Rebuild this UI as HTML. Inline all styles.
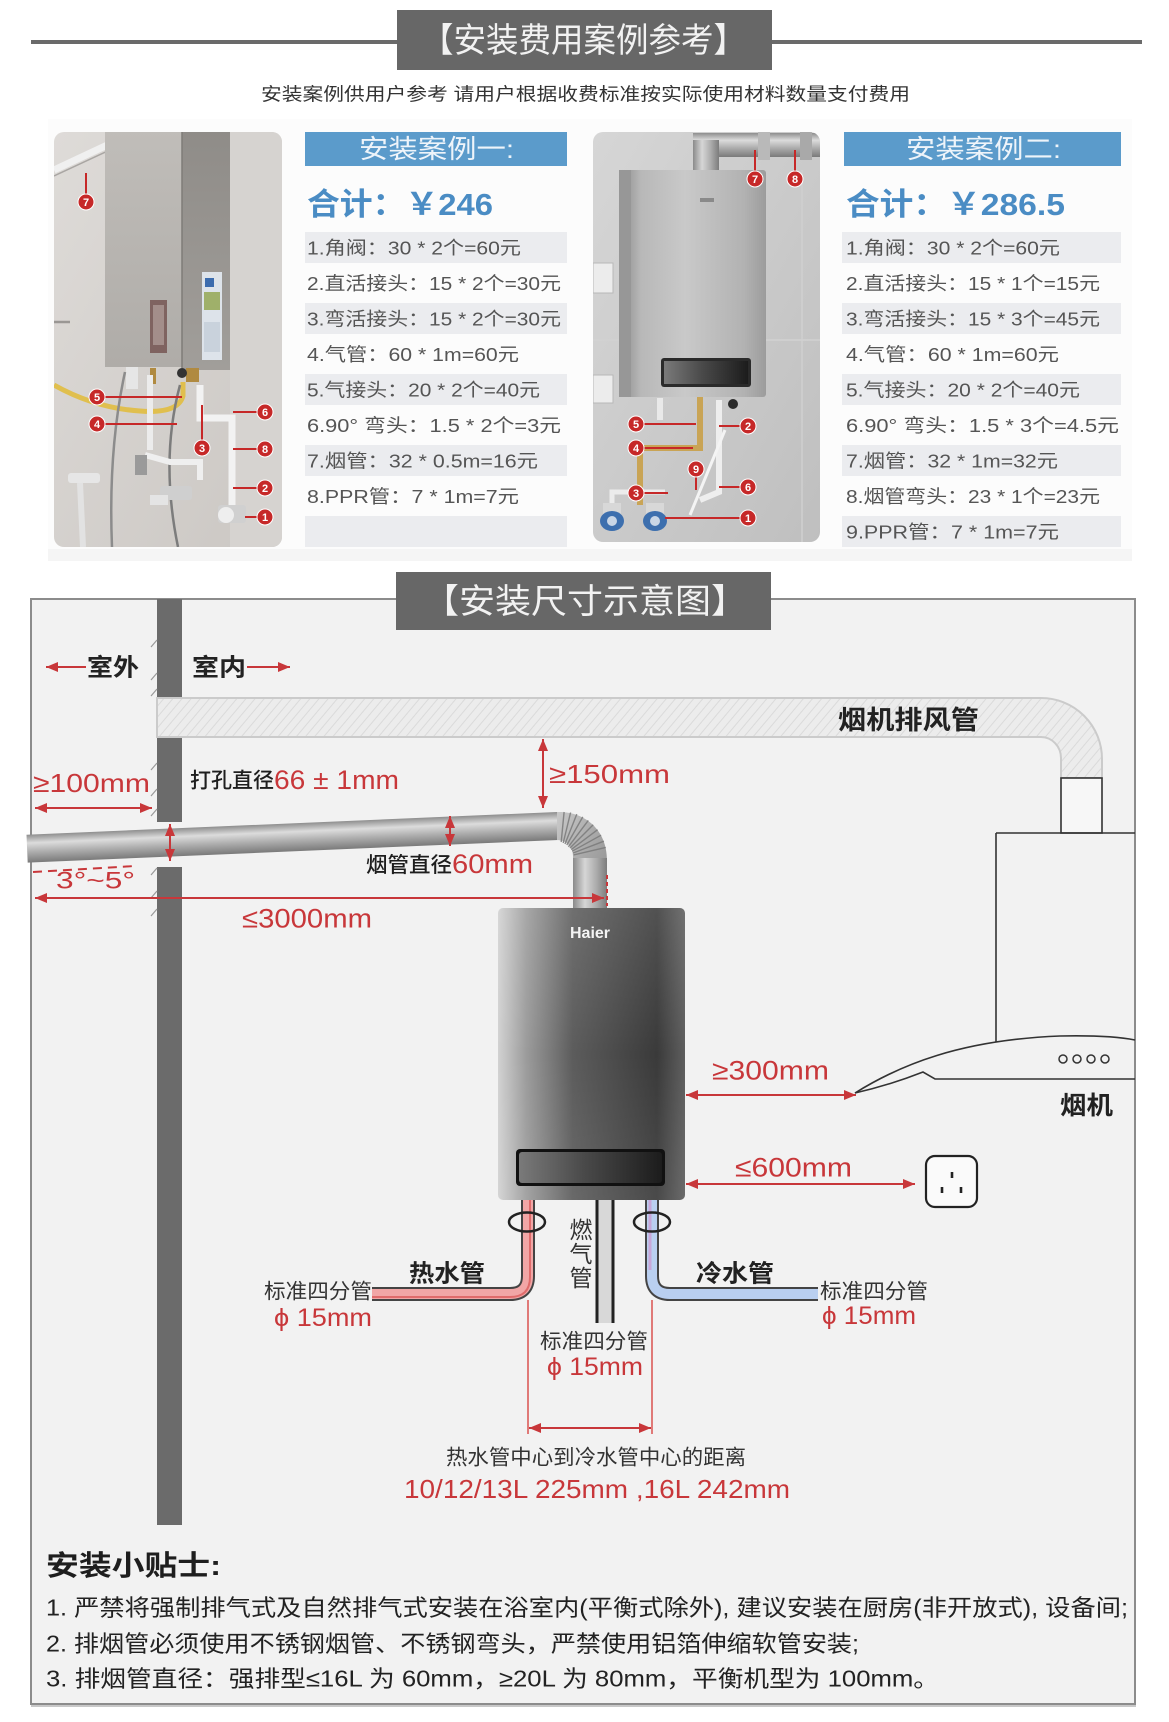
<!DOCTYPE html>
<html><head><meta charset="utf-8">
<style>
html,body{margin:0;padding:0;background:#fff;}
body{width:1169px;height:1722px;overflow:hidden;}
svg{display:block;}
text{font-family:"Liberation Sans","Noto Sans CJK SC",sans-serif;}
</style></head>
<body>
<svg width="1169" height="1722" viewBox="0 0 1169 1722" xmlns="http://www.w3.org/2000/svg">
<defs>
  <marker id="a" viewBox="0 0 12 10" refX="12" refY="5" markerWidth="12" markerHeight="10" markerUnits="userSpaceOnUse" orient="auto-start-reverse">
    <path d="M0,0 L12,5 L0,10 z" fill="#c8373a"/>
  </marker>
  <pattern id="hatch" width="7" height="7" patternUnits="userSpaceOnUse" patternTransform="rotate(40)">
    <rect width="7" height="7" fill="#ececec"/>
    <line x1="0" y1="0" x2="0" y2="7" stroke="#dadada" stroke-width="2"/>
  </pattern>
  <linearGradient id="pipeH" x1="0" y1="0" x2="0" y2="1">
    <stop offset="0" stop-color="#8e8e8e"/>
    <stop offset="0.3" stop-color="#dcdcdc"/>
    <stop offset="0.6" stop-color="#b0b0b0"/>
    <stop offset="1" stop-color="#7a7a7a"/>
  </linearGradient>
  <linearGradient id="pipeV" x1="0" y1="0" x2="1" y2="0">
    <stop offset="0" stop-color="#8a8a8a"/>
    <stop offset="0.35" stop-color="#d6d6d6"/>
    <stop offset="0.7" stop-color="#aaaaaa"/>
    <stop offset="1" stop-color="#7c7c7c"/>
  </linearGradient>
  <linearGradient id="elbow" x1="0" y1="0" x2="1" y2="1">
    <stop offset="0" stop-color="#c9c9c9"/>
    <stop offset="0.5" stop-color="#a8a8a8"/>
    <stop offset="1" stop-color="#8a8a8a"/>
  </linearGradient>
  <linearGradient id="heater" x1="0" y1="0" x2="1" y2="0">
    <stop offset="0" stop-color="#d2d2d2"/>
    <stop offset="0.15" stop-color="#9c9c9c"/>
    <stop offset="0.4" stop-color="#5c5c5c"/>
    <stop offset="0.85" stop-color="#3a3a3a"/>
    <stop offset="1" stop-color="#5e5e5e"/>
  </linearGradient>
  <linearGradient id="heaterV" x1="0" y1="0" x2="0" y2="1">
    <stop offset="0" stop-color="#ffffff" stop-opacity="0.12"/>
    <stop offset="0.5" stop-color="#ffffff" stop-opacity="0"/>
    <stop offset="1" stop-color="#ffffff" stop-opacity="0.08"/>
  </linearGradient>
  <linearGradient id="win" x1="0" y1="0" x2="1" y2="0">
    <stop offset="0" stop-color="#7a7a7a"/>
    <stop offset="0.45" stop-color="#4a4a4a"/>
    <stop offset="1" stop-color="#1c1c1c"/>
  </linearGradient>
  <linearGradient id="wall1" x1="0" y1="0" x2="1" y2="1">
    <stop offset="0" stop-color="#dedbd8"/>
    <stop offset="1" stop-color="#cbc7c3"/>
  </linearGradient>
  <linearGradient id="h1front" x1="0" y1="0" x2="0" y2="1">
    <stop offset="0" stop-color="#c0bdb9"/>
    <stop offset="1" stop-color="#afaca8"/>
  </linearGradient>
  <linearGradient id="h1side" x1="0" y1="0" x2="0" y2="1">
    <stop offset="0" stop-color="#8f8c88"/>
    <stop offset="1" stop-color="#a19e9a"/>
  </linearGradient>
  <linearGradient id="wall2" x1="0" y1="0" x2="1" y2="1">
    <stop offset="0" stop-color="#d6d6d6"/>
    <stop offset="1" stop-color="#bfbfbf"/>
  </linearGradient>
  <linearGradient id="h2" x1="0" y1="0" x2="1" y2="0">
    <stop offset="0" stop-color="#8a8a8a"/>
    <stop offset="0.15" stop-color="#b8b8b8"/>
    <stop offset="0.45" stop-color="#c9c9c9"/>
    <stop offset="0.85" stop-color="#b2b2b2"/>
    <stop offset="1" stop-color="#9c9c9c"/>
  </linearGradient>
  <clipPath id="cp1"><rect x="54" y="132" width="228" height="415" rx="10"/></clipPath>
  <clipPath id="cp2"><rect x="593" y="132" width="227" height="410" rx="10"/></clipPath>
</defs>

<!-- ================= TOP SECTION ================= -->
<rect x="31" y="40" width="1111" height="4" fill="#6a6a6a"/>
<rect x="397" y="10" width="375" height="60" fill="#676767"/>
<text x="421" y="52" font-size="34" fill="#f2f2f2" textLength="325" lengthAdjust="spacingAndGlyphs">【安装费用案例参考】</text>
<text x="261" y="100.5" font-size="18" fill="#333" textLength="649" lengthAdjust="spacingAndGlyphs">安装案例供用户参考 请用户根据收费标准按实际使用材料数量支付费用</text>

<rect x="48" y="119" width="1084" height="442" fill="#fcfcfc"/>
<rect x="48" y="549" width="1084" height="12" fill="#f5f5f5"/>

<!-- Photo 1 -->
<g clip-path="url(#cp1)">
  <rect x="54" y="132" width="228" height="415" fill="url(#wall1)"/>
  <rect x="230" y="132" width="52" height="415" fill="#d6d3d0"/>
  <line x1="54" y1="170" x2="135" y2="132" stroke="#f0f0f0" stroke-width="7"/>
  <line x1="54" y1="176" x2="140" y2="136" stroke="#a9a6a3" stroke-width="1.5"/>
  <line x1="54" y1="322" x2="70" y2="322" stroke="#9a9794" stroke-width="2.5"/>
  <rect x="105" y="130" width="77" height="237" fill="url(#h1front)"/>
  <rect x="182" y="130" width="48" height="240" fill="url(#h1side)"/>
  <line x1="182" y1="130" x2="182" y2="368" stroke="#7f7c78" stroke-width="1.5"/>
  <rect x="202" y="272" width="20" height="88" fill="#dde3ea"/>
  <rect x="205" y="278" width="9" height="9" fill="#3c6cae"/>
  <rect x="204" y="292" width="16" height="18" fill="#9fb06a"/>
  <rect x="204" y="322" width="16" height="30" fill="#c9d2dc"/>
  <rect x="150" y="300" width="17" height="53" fill="#7f6360"/>
  <rect x="153" y="305" width="11" height="40" fill="#a38e8a"/>
  <rect x="126" y="367" width="12" height="22" fill="#e6e6e6"/>
  <rect x="186" y="368" width="13" height="14" fill="#b08a40"/>
  <circle cx="182" cy="373" r="5" fill="#333"/>
  <rect x="150" y="368" width="6" height="16" fill="#b08a40"/>
  <path d="M54,385 Q95,408 140,411 Q178,414 183,396 L183,382" stroke="#e0bf4e" stroke-width="5" fill="none"/>
  <path d="M125,372 Q108,450 112,547" stroke="#8c8c8c" stroke-width="2.5" fill="none"/>
  <path d="M180,385 Q160,460 178,547" stroke="#7c7c7c" stroke-width="2.5" fill="none"/>
  <path d="M150,375 L150,450" stroke="#ececec" stroke-width="6" fill="none"/>
  <path d="M200,385 L200,418 L232,418 L232,505" stroke="#f2f2f2" stroke-width="7" fill="none"/>
  <path d="M145,455 L170,462 L200,462 L200,480" stroke="#efefef" stroke-width="6" fill="none"/>
  <rect x="160" y="486" width="32" height="14" rx="3" fill="#cfcfcf"/>
  <rect x="150" y="495" width="18" height="10" fill="#e4e4e4"/>
  <rect x="218" y="505" width="28" height="18" rx="3" fill="#d0d0d0"/>
  <circle cx="226" cy="515" r="8" fill="#eeeeee"/>
  <rect x="135" y="455" width="12" height="20" fill="#9a9a9a"/>
  <rect x="68" y="473" width="32" height="10" rx="3" fill="#e6e6e6"/>
  <path d="M80,483 L83,547" stroke="#e2e2e2" stroke-width="6"/>
</g>
<!-- callouts photo 1 -->
<g stroke="#c62828" stroke-width="2">
  <line x1="86" y1="173" x2="86" y2="195"/>
  <line x1="105" y1="397" x2="182" y2="397"/>
  <line x1="105" y1="424" x2="177" y2="424"/>
  <line x1="202" y1="405" x2="202" y2="440"/>
  <line x1="233" y1="412" x2="257" y2="412"/>
  <line x1="233" y1="449" x2="257" y2="449"/>
  <line x1="233" y1="488" x2="257" y2="488"/>
  <line x1="245" y1="517" x2="257" y2="517"/>
</g>
<g fill="#c62828" stroke="#fff" stroke-width="1">
  <circle cx="86" cy="202" r="8"/><circle cx="97" cy="397" r="8"/><circle cx="97" cy="424" r="8"/>
  <circle cx="202" cy="448" r="8"/><circle cx="265" cy="412" r="8"/><circle cx="265" cy="449" r="8"/>
  <circle cx="265" cy="488" r="8"/><circle cx="265" cy="517" r="8"/>
</g>
<g font-size="11" font-weight="bold" fill="#fff" text-anchor="middle">
  <text x="86" y="206">7</text><text x="97" y="401">5</text><text x="97" y="428">4</text>
  <text x="202" y="452">3</text><text x="265" y="416">6</text><text x="265" y="453">8</text>
  <text x="265" y="492">2</text><text x="265" y="521">1</text>
</g>

<!-- Case 1 table -->
<rect x="305" y="132" width="262" height="34" fill="#5b9bcb"/>
<text x="359" y="158" font-size="26" fill="#eef4fa" textLength="155" lengthAdjust="spacingAndGlyphs">安装案例一:</text>
<text x="307" y="215" font-size="31" font-weight="bold" fill="#4a8cc4" textLength="186" lengthAdjust="spacingAndGlyphs">合计：￥246</text>
<g fill="#ebecef">
  <rect x="305" y="232" width="262" height="31"/>
  <rect x="305" y="303" width="262" height="31"/>
  <rect x="305" y="374" width="262" height="31"/>
  <rect x="305" y="445" width="262" height="31"/>
  <rect x="305" y="516" width="262" height="31"/>
</g>
<g font-size="18.5" fill="#555">
  <text x="307" y="254.7" textLength="214" lengthAdjust="spacingAndGlyphs">1.角阀：30 * 2个=60元</text>
  <text x="307" y="290.2" textLength="254" lengthAdjust="spacingAndGlyphs">2.直活接头：15 * 2个=30元</text>
  <text x="307" y="325.7" textLength="254" lengthAdjust="spacingAndGlyphs">3.弯活接头：15 * 2个=30元</text>
  <text x="307" y="361.2" textLength="212" lengthAdjust="spacingAndGlyphs">4.气管：60 * 1m=60元</text>
  <text x="307" y="396.7" textLength="233" lengthAdjust="spacingAndGlyphs">5.气接头：20 * 2个=40元</text>
  <text x="307" y="432.2" textLength="254" lengthAdjust="spacingAndGlyphs">6.90°  弯头：1.5 * 2个=3元</text>
  <text x="307" y="467.7" textLength="231" lengthAdjust="spacingAndGlyphs">7.烟管：32 * 0.5m=16元</text>
  <text x="307" y="503.2" textLength="212" lengthAdjust="spacingAndGlyphs">8.PPR管：7 * 1m=7元</text>
</g>

<!-- Photo 2 -->
<g clip-path="url(#cp2)">
  <rect x="593" y="132" width="227" height="410" fill="url(#wall2)"/>
  <line x1="593" y1="340" x2="820" y2="340" stroke="#d2d2d2" stroke-width="1.5"/>
  <line x1="802" y1="170" x2="802" y2="542" stroke="#d0d0d0" stroke-width="1.5"/>
  <rect x="693" y="133" width="127" height="24" fill="url(#pipeH)"/>
  <rect x="758" y="130" width="12" height="30" fill="#b9b9b9"/>
  <rect x="800" y="130" width="12" height="30" fill="#a9a9a9"/>
  <rect x="693" y="140" width="26" height="35" fill="url(#pipeV)"/>
  <rect x="619" y="170" width="147" height="227" rx="3" fill="url(#h2)"/>
  <rect x="619" y="170" width="12" height="227" fill="#979797"/>
  <rect x="700" y="198" width="14" height="4" fill="#8a8a8a"/>
  <rect x="661" y="358" width="90" height="29" rx="3" fill="#2a2a2a"/>
  <rect x="664" y="361" width="84" height="23" fill="url(#win)"/>
  <circle cx="733" cy="404" r="5" fill="#2a2a2a"/>
  <rect x="593" y="263" width="20" height="30" fill="#ececec" stroke="#b8b8b8"/>
  <rect x="593" y="375" width="20" height="28" fill="#ececec" stroke="#b8b8b8"/>
  <path d="M700,397 L700,448 L640,448 L640,505" stroke="#c9a455" stroke-width="6" fill="none"/>
  <path d="M660,398 L660,420" stroke="#e9e9e9" stroke-width="6"/>
  <path d="M719,400 L719,492 L700,500" stroke="#eeeeee" stroke-width="6" fill="none"/>
  <path d="M725,430 L690,515" stroke="#f4f4f4" stroke-width="3" fill="none"/>
  <path d="M612,508 L612,492 L665,492" stroke="#ececec" stroke-width="5" fill="none"/>
  <rect x="603" y="503" width="18" height="12" fill="#d8d8d8"/>
  <rect x="646" y="503" width="18" height="12" fill="#d8d8d8"/>
  <ellipse cx="612" cy="521" rx="12" ry="10" fill="#3d6fae"/>
  <ellipse cx="655" cy="521" rx="12" ry="10" fill="#3d6fae"/>
  <ellipse cx="612" cy="521" rx="5" ry="5" fill="#c9d6e6"/>
  <ellipse cx="655" cy="521" rx="5" ry="5" fill="#c9d6e6"/>
</g>
<g stroke="#c62828" stroke-width="2">
  <line x1="755" y1="150" x2="755" y2="171"/>
  <line x1="795" y1="150" x2="795" y2="171"/>
  <line x1="644" y1="424" x2="696" y2="424"/>
  <line x1="644" y1="448" x2="693" y2="448"/>
  <line x1="644" y1="493" x2="668" y2="493"/>
  <line x1="696" y1="477" x2="696" y2="490"/>
  <line x1="719" y1="426" x2="740" y2="426"/>
  <line x1="719" y1="487" x2="740" y2="487"/>
  <line x1="665" y1="518" x2="740" y2="518"/>
</g>
<g fill="#c62828" stroke="#fff" stroke-width="1">
  <circle cx="755" cy="179" r="8"/><circle cx="795" cy="179" r="8"/>
  <circle cx="636" cy="424" r="8"/><circle cx="636" cy="448" r="8"/><circle cx="636" cy="493" r="8"/>
  <circle cx="696" cy="469" r="8"/><circle cx="748" cy="426" r="8"/><circle cx="748" cy="487" r="8"/>
  <circle cx="748" cy="518" r="8"/>
</g>
<g font-size="11" font-weight="bold" fill="#fff" text-anchor="middle">
  <text x="755" y="183">7</text><text x="795" y="183">8</text>
  <text x="636" y="428">5</text><text x="636" y="452">4</text><text x="636" y="497">3</text>
  <text x="696" y="473">9</text><text x="748" y="430">2</text><text x="748" y="491">6</text>
  <text x="748" y="522">1</text>
</g>

<!-- Case 2 table -->
<rect x="844" y="132" width="277" height="34" fill="#5b9bcb"/>
<text x="906" y="158" font-size="26" fill="#eef4fa" textLength="155" lengthAdjust="spacingAndGlyphs">安装案例二:</text>
<text x="846" y="215" font-size="31" font-weight="bold" fill="#4a8cc4" textLength="219" lengthAdjust="spacingAndGlyphs">合计：￥286.5</text>
<g fill="#ebecef">
  <rect x="842" y="232" width="279" height="31"/>
  <rect x="842" y="303" width="279" height="31"/>
  <rect x="842" y="374" width="279" height="31"/>
  <rect x="842" y="445" width="279" height="31"/>
  <rect x="842" y="516" width="279" height="31"/>
</g>
<g font-size="18.5" fill="#555">
  <text x="846" y="254.7" textLength="214" lengthAdjust="spacingAndGlyphs">1.角阀：30 * 2个=60元</text>
  <text x="846" y="290.2" textLength="254" lengthAdjust="spacingAndGlyphs">2.直活接头：15 * 1个=15元</text>
  <text x="846" y="325.7" textLength="254" lengthAdjust="spacingAndGlyphs">3.弯活接头：15 * 3个=45元</text>
  <text x="846" y="361.2" textLength="213" lengthAdjust="spacingAndGlyphs">4.气管：60 * 1m=60元</text>
  <text x="846" y="396.7" textLength="234" lengthAdjust="spacingAndGlyphs">5.气接头：20 * 2个=40元</text>
  <text x="846" y="432.2" textLength="273" lengthAdjust="spacingAndGlyphs">6.90°  弯头：1.5 * 3个=4.5元</text>
  <text x="846" y="467.7" textLength="212" lengthAdjust="spacingAndGlyphs">7.烟管：32 * 1m=32元</text>
  <text x="846" y="503.2" textLength="254" lengthAdjust="spacingAndGlyphs">8.烟管弯头：23 * 1个=23元</text>
  <text x="846" y="538.7" textLength="213" lengthAdjust="spacingAndGlyphs">9.PPR管：7 * 1m=7元</text>
</g>

<!-- ================= DIAGRAM SECTION ================= -->
<rect x="31" y="599" width="1104" height="1105" fill="#f2f2f2" stroke="#8c8c8c" stroke-width="2"/>
<line x1="31" y1="1706" x2="1136" y2="1706" stroke="#c8c8c8" stroke-width="2"/>
<rect x="396" y="572" width="375" height="58" fill="#676767"/>
<text x="423" y="613" font-size="34" fill="#f2f2f2" textLength="324" lengthAdjust="spacingAndGlyphs">【安装尺寸示意图】</text>

<!-- exhaust band -->
<path d="M157,698 L1041,698 A61,61 0 0 1 1102,759 L1102,778 L1061,778 L1061,758 A20,21 0 0 0 1041,737 L157,737 Z" fill="url(#hatch)" stroke="#cbcbcb" stroke-width="2"/>
<text x="838" y="729" font-size="26" font-weight="bold" fill="#222" textLength="141" lengthAdjust="spacingAndGlyphs">烟机排风管</text>

<!-- wall -->
<g fill="#6b6b6b">
  <rect x="157" y="599" width="25" height="98"/>
  <rect x="157" y="738" width="25" height="84"/>
  <rect x="157" y="867" width="25" height="658"/>
</g>
<g stroke="#9a9a9a" stroke-width="1.2">
  <line x1="151" y1="647" x2="157" y2="640"/>
  <line x1="151" y1="680" x2="157" y2="673"/>
  <line x1="151" y1="696" x2="157" y2="689"/>
  <line x1="151" y1="770" x2="157" y2="763"/>
  <line x1="151" y1="796" x2="157" y2="789"/>
  <line x1="151" y1="816" x2="157" y2="809"/>
  <line x1="151" y1="875" x2="157" y2="868"/>
  <line x1="151" y1="898" x2="157" y2="891"/>
  <line x1="151" y1="916" x2="157" y2="909"/>
</g>

<!-- 室外 / 室内 -->
<line x1="86" y1="667" x2="46" y2="667" stroke="#c8373a" stroke-width="2" marker-end="url(#a)"/>
<text x="87" y="675.6" font-size="24" font-weight="bold" fill="#222" textLength="52" lengthAdjust="spacingAndGlyphs">室外</text>
<text x="192" y="675.6" font-size="24" font-weight="bold" fill="#222" textLength="54" lengthAdjust="spacingAndGlyphs">室内</text>
<line x1="247" y1="667" x2="290" y2="667" stroke="#c8373a" stroke-width="2" marker-end="url(#a)"/>

<!-- flue pipe -->
<g transform="rotate(-2.45 557 812)">
  <rect x="26" y="812" width="531" height="28" fill="url(#pipeH)"/>
</g>
<path d="M557,812 C585,811 607,830 607,860 L607,908 L573,908 L573,856 C573,847 566,840 557,840 Z" fill="url(#elbow)"/>
<rect x="573" y="858" width="34" height="50" fill="url(#pipeV)"/>
<g stroke="#7a7a7a" stroke-width="1.4" opacity="0.85">
  <line x1="561.2" y1="842" x2="564.1" y2="812"/>
  <line x1="563.2" y1="843" x2="570.6" y2="812.5"/>
  <line x1="565" y1="844" x2="576.8" y2="814.1"/>
  <line x1="566.8" y1="845" x2="582.8" y2="816.9"/>
  <line x1="568.4" y1="846.8" x2="588.3" y2="820.4"/>
  <line x1="569.9" y1="848.1" x2="593.2" y2="824.8"/>
  <line x1="571.2" y1="849.6" x2="597.6" y2="829.7"/>
  <line x1="572.2" y1="851.2" x2="601.1" y2="835.2"/>
  <line x1="573.1" y1="853" x2="603.9" y2="841.2"/>
  <line x1="573.6" y1="854.9" x2="605.8" y2="847.4"/>
</g>

<!-- hood -->
<rect x="1061" y="778" width="41" height="55" fill="#f7f7f7" stroke="#333" stroke-width="1.6"/>
<line x1="996" y1="833" x2="1135" y2="833" stroke="#333" stroke-width="1.6"/>
<line x1="996" y1="833" x2="996" y2="1042" stroke="#333" stroke-width="1.6"/>
<path d="M855,1093 C900,1065 960,1040 1060,1036 Q1110,1035 1135,1040" fill="none" stroke="#333" stroke-width="1.6"/>
<path d="M855,1093 Q890,1085 923,1072 L935,1079 L1135,1079" fill="none" stroke="#333" stroke-width="1.6"/>
<g fill="none" stroke="#333" stroke-width="1.5">
  <circle cx="1063" cy="1059" r="4"/><circle cx="1077" cy="1059" r="4"/>
  <circle cx="1091" cy="1059" r="4"/><circle cx="1105" cy="1059" r="4"/>
</g>
<text x="1060" y="1114" font-size="25" font-weight="bold" fill="#222" textLength="53" lengthAdjust="spacingAndGlyphs">烟机</text>

<!-- outlet -->
<rect x="926" y="1156" width="51" height="51" rx="9" fill="#fafafa" stroke="#222" stroke-width="2.2"/>
<g stroke="#222" stroke-width="2.6">
  <line x1="952" y1="1172" x2="952" y2="1178"/>
  <line x1="942" y1="1187" x2="942" y2="1193"/>
  <line x1="961" y1="1187" x2="961" y2="1193"/>
</g>

<!-- water heater -->
<rect x="498" y="908" width="187" height="292" rx="5" fill="url(#heater)"/>
<rect x="498" y="908" width="187" height="292" rx="5" fill="url(#heaterV)"/>
<text x="590" y="938" font-size="16" font-weight="bold" fill="#f4f4f4" text-anchor="middle">Haier</text>
<rect x="516" y="1149" width="149" height="37" rx="4" fill="#111"/>
<rect x="519" y="1152" width="143" height="31" rx="3" fill="url(#win)"/>

<!-- pipes under heater -->
<path d="M597,1200 L597,1323 M613,1200 L613,1323" stroke="#222" stroke-width="3"/>
<rect x="598.5" y="1200" width="13" height="123" fill="#d8d8d8"/>
<path d="M528,1200 L528,1276 Q528,1294 510,1294 L372,1294" fill="none" stroke="#444" stroke-width="14"/>
<path d="M528,1200 L528,1276 Q528,1294 510,1294 L372,1294" fill="none" stroke="#f1a6a6" stroke-width="10"/>
<path d="M530,1200 L530,1277 Q530,1297 510,1297 L372,1297" fill="none" stroke="#e06b6b" stroke-width="2"/>
<path d="M652,1200 L652,1276 Q652,1294 670,1294 L818,1294" fill="none" stroke="#444" stroke-width="14"/>
<path d="M652,1200 L652,1276 Q652,1294 670,1294 L818,1294" fill="none" stroke="#b9cff0" stroke-width="10"/>
<path d="M650,1200 L650,1270" fill="none" stroke="#c8a6d8" stroke-width="3"/>
<ellipse cx="527" cy="1222" rx="18" ry="9.5" fill="none" stroke="#222" stroke-width="2.5"/>
<ellipse cx="652" cy="1222" rx="18" ry="9.5" fill="none" stroke="#222" stroke-width="2.5"/>
<g font-size="23" fill="#333" text-anchor="middle">
  <text x="581" y="1238">燃</text>
  <text x="581" y="1262">气</text>
  <text x="581" y="1286">管</text>
</g>
<text x="409" y="1281.6" font-size="24" font-weight="bold" fill="#222" textLength="76" lengthAdjust="spacingAndGlyphs">热水管</text>
<text x="696" y="1281.6" font-size="24" font-weight="bold" fill="#222" textLength="78" lengthAdjust="spacingAndGlyphs">冷水管</text>
<text x="264" y="1298.6" font-size="21" fill="#333" textLength="108" lengthAdjust="spacingAndGlyphs">标准四分管</text>
<text x="820" y="1298.6" font-size="21" fill="#333" textLength="108" lengthAdjust="spacingAndGlyphs">标准四分管</text>
<text x="540" y="1348.6" font-size="21" fill="#333" textLength="108" lengthAdjust="spacingAndGlyphs">标准四分管</text>

<!-- red dimension lines -->
<g stroke="#c8373a" stroke-width="2" fill="none">
  <line x1="35" y1="808" x2="152" y2="808" marker-start="url(#a)" marker-end="url(#a)"/>
  <line x1="170" y1="824" x2="170" y2="861" marker-start="url(#a)" marker-end="url(#a)"/>
  <line x1="450" y1="816" x2="450" y2="846" marker-start="url(#a)" marker-end="url(#a)"/>
  <line x1="543" y1="739" x2="543" y2="808" marker-start="url(#a)" marker-end="url(#a)"/>
  <line x1="35" y1="898" x2="604" y2="898" marker-start="url(#a)" marker-end="url(#a)"/>
  <line x1="686" y1="1095" x2="856" y2="1095" marker-start="url(#a)" marker-end="url(#a)"/>
  <line x1="686" y1="1184" x2="915" y2="1184" marker-start="url(#a)" marker-end="url(#a)"/>
  <line x1="529" y1="1428" x2="651" y2="1428" marker-start="url(#a)" marker-end="url(#a)"/>
  <line x1="607" y1="875" x2="607" y2="906" stroke-dasharray="4 3"/>
  <line x1="33" y1="872" x2="135" y2="866" stroke-dasharray="9 6"/>
</g>
<g stroke="#d9534f" stroke-width="1.5">
  <line x1="528" y1="1300" x2="528" y2="1434"/>
  <line x1="652" y1="1300" x2="652" y2="1434"/>
</g>

<!-- red labels -->
<g fill="#c8373a">
  <text x="33" y="792" font-size="26" textLength="117" lengthAdjust="spacingAndGlyphs">≥100mm</text>
  <text x="274" y="789" font-size="27" textLength="125" lengthAdjust="spacingAndGlyphs">66 ± 1mm</text>
  <text x="549" y="783" font-size="26" textLength="121" lengthAdjust="spacingAndGlyphs">≥150mm</text>
  <text x="452" y="873" font-size="27" textLength="81" lengthAdjust="spacingAndGlyphs">60mm</text>
  <text x="56" y="888.6" font-size="24" textLength="79" lengthAdjust="spacingAndGlyphs">3°~5°</text>
  <text x="242" y="927.7" font-size="27" textLength="130" lengthAdjust="spacingAndGlyphs">≤3000mm</text>
  <text x="712" y="1079.7" font-size="27" textLength="117" lengthAdjust="spacingAndGlyphs">≥300mm</text>
  <text x="735" y="1176.7" font-size="27" textLength="117" lengthAdjust="spacingAndGlyphs">≤600mm</text>
  <text x="274" y="1326" font-size="25" textLength="98" lengthAdjust="spacingAndGlyphs">ϕ 15mm</text>
  <text x="822" y="1324" font-size="25" textLength="94" lengthAdjust="spacingAndGlyphs">ϕ 15mm</text>
  <text x="547" y="1375" font-size="25" textLength="96" lengthAdjust="spacingAndGlyphs">ϕ 15mm</text>
  <text x="404" y="1498" font-size="26" textLength="386" lengthAdjust="spacingAndGlyphs">10/12/13L 225mm ,16L 242mm</text>
</g>
<text x="190" y="787.5" font-size="21" font-weight="500" fill="#1e1e1e" textLength="84" lengthAdjust="spacingAndGlyphs">打孔直径</text>
<text x="366" y="872" font-size="21" font-weight="500" fill="#1e1e1e" textLength="86" lengthAdjust="spacingAndGlyphs">烟管直径</text>
<text x="446" y="1464.6" font-size="21" fill="#333" textLength="300" lengthAdjust="spacingAndGlyphs">热水管中心到冷水管中心的距离</text>

<!-- tips -->
<text x="46" y="1575" font-size="28" font-weight="bold" fill="#1e1e1e" textLength="175" lengthAdjust="spacingAndGlyphs">安装小贴士:</text>
<g font-size="23" fill="#222">
  <text x="46" y="1615.3" textLength="1082" lengthAdjust="spacingAndGlyphs">1. 严禁将强制排气式及自然排气式安装在浴室内(平衡式除外), 建议安装在厨房(非开放式), 设备间;</text>
  <text x="46" y="1651.3" textLength="813" lengthAdjust="spacingAndGlyphs">2. 排烟管必须使用不锈钢烟管、不锈钢弯头，严禁使用铝箔伸缩软管安装;</text>
  <text x="46" y="1686.3" textLength="893" lengthAdjust="spacingAndGlyphs">3. 排烟管直径：强排型≤16L 为 60mm，≥20L 为 80mm，平衡机型为 100mm。</text>
</g>
</svg>
</body></html>
